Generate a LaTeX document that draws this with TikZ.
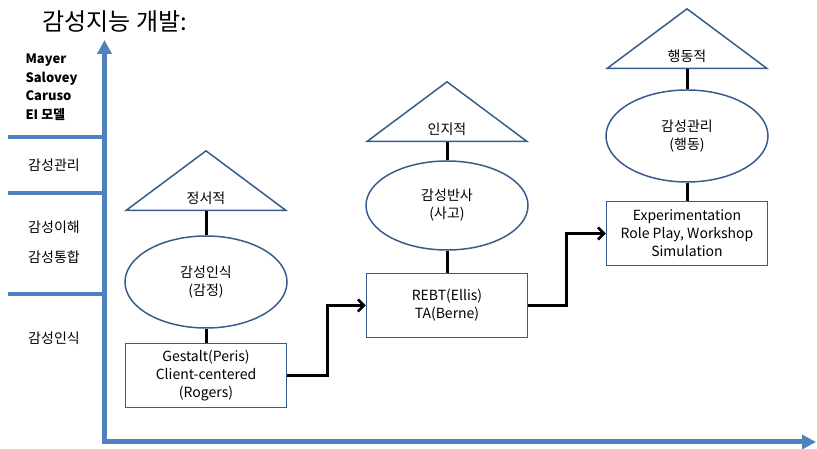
\documentclass[tikz,border=0pt]{standalone}
\usepackage{fontspec}
\setmainfont{Noto Sans CJK KR}
\usepackage{xcolor}
\usepackage{tikz}
\usetikzlibrary{calc}
\usetikzlibrary{positioning}
\usetikzlibrary{shapes.geometric}
\usetikzlibrary{arrows.meta}

\definecolor{axisblue}{RGB}{79,129,189}
\definecolor{shapeblue}{RGB}{56,93,138}

% triangle labels sit near the base
\newcommand{\nearbase}[1]{\raisebox{-10pt}[10pt][3pt]{#1}}

\begin{document}
\begin{tikzpicture}[x=1pt, y=1pt, every text node part/.style={align=center},
  font=\fontsize{14}{18}\selectfont,
  attitude/.style={isosceles triangle, isosceles triangle stretches, shape border rotate=90, draw=shapeblue, line width=1.5pt, minimum width=160pt, minimum height=56pt, inner sep=0pt},
  stage/.style={ellipse, draw=shapeblue, line width=1.5pt, minimum width=162pt, minimum height=92pt, inner sep=0pt},
  method/.style={rectangle, draw=shapeblue, line width=1.5pt, minimum width=161pt, minimum height=64pt, inner sep=0pt},
  axis line/.style={axisblue, line width=5pt, line cap=rect, -{Triangle[length=14pt,width=14pt]}},
  divider/.style={axisblue, line width=4pt},
  joint/.style={line width=3pt},
  stepup/.style={line width=2.5pt, -{Straight Barb[length=6pt,width=12pt]}}]
\useasboundingbox (0,0) rectangle (817,449);

\node (title) at (115,427) {\fontsize{24}{28}\selectfont 감성지능 개발:};

% axes and levels
\coordinate (origin) at (104.5,7);
\coordinate (level end) at (104.5,409);
\coordinate (time end) at (816,7);
\draw [axis line] (origin) -- (level end);
\draw [axis line] (origin) -- (time end);
\draw [divider] (8,312) -- (104.5,312);
\draw [divider] (8,256) -- (104.5,256);
\draw [divider] (8,155) -- (104.5,155);

\node (model) [anchor=west, every text node part/.style={align=left}, font=\bfseries\fontsize{13}{18.5}\selectfont] at (22,362) {Mayer\\Salovey\\Caruso\\EI 모델};
\node (management level) at (54,284) {감성관리};
\node (understanding level) [font=\fontsize{14}{30}\selectfont] at (54,207) {감성이해\\감성통합};
\node (perception level) at (54,111) {감성인식};

% emotional
\node (emotion perception) [stage] at (206,167) {감성인식\\(감정)};
\node (emotional) [attitude, above=24pt of emotion perception] {\nearbase{정서적}};
\node (gestalt) [method, below=14pt of emotion perception] {Gestalt(Peris)\\Client-centered\\(Rogers)};

% cognitive
\node (emotion reflection) [stage, minimum height=89pt] at (447,243.5) {감성반사\\(사고)};
\node (cognitive) [attitude, above=18pt of emotion reflection] {\nearbase{인지적}};
\node (rebt) [method, below=22pt of emotion reflection] {REBT(Ellis)\\TA(Berne)};

% behavioral
\node (emotion management) [stage] at (687,313) {감성관리\\(행동)};
\node (behavioral) [attitude, above=20pt of emotion management] {\nearbase{행동적}};
\node (experimentation) [method, below=18pt of emotion management] {Experimentation\\Role Play, Workshop\\Simulation};

\draw [joint] (emotional.south) -- (emotion perception.north);
\draw [joint] (emotion perception.south) -- (gestalt.north);
\draw [joint] (cognitive.south) -- (emotion reflection.north);
\draw [joint] (emotion reflection.south) -- (rebt.north);
\draw [joint] (behavioral.south) -- (emotion management.north);
\draw [joint] (emotion management.south) -- (experimentation.north);

\draw [stepup] (gestalt.east) -- ++(40,0) |- (rebt.west);
\draw [stepup] (rebt.east) -- ++(38,0) |- (experimentation.west);

\end{tikzpicture}
\end{document}
